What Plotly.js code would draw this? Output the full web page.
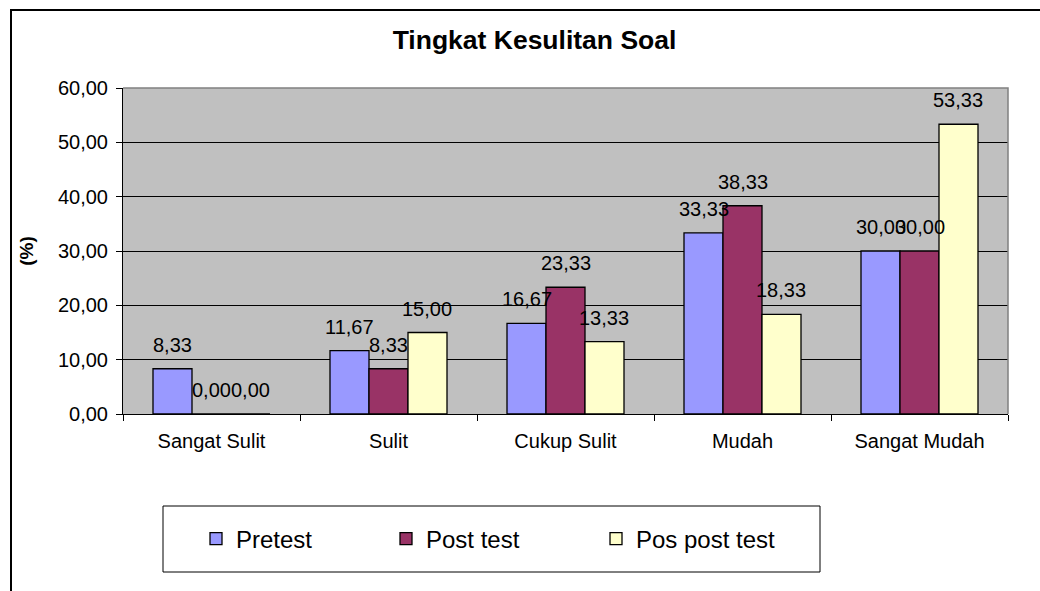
<!DOCTYPE html>
<html>
<head>
<meta charset="utf-8">
<script src="https://cdn.plot.ly/plotly-3.0.1.min.js"></script>
<style>
html,body{margin:0;padding:0;background:#fff;overflow:hidden;}
#chart{width:1040px;height:591px;}
</style>
</head>
<body>
<div id="chart"></div>
<script>
const categories = ['Sangat Sulit', 'Sulit', 'Cukup Sulit', 'Mudah', 'Sangat Mudah'];
const seriesNames = ['Pretest', 'Post test', 'Pos post test'];
const pretest = [8.33, 11.67, 16.67, 33.33, 30.00];
const postTest = [0.00, 8.33, 23.33, 38.33, 30.00];
const posPostTest = [0.00, 15.00, 13.33, 18.33, 53.33];
const yTicks = [0, 10, 20, 30, 40, 50, 60];

const colors = ['#9999FF', '#993366', '#FFFFCC'];
const allSeries = [pretest, postTest, posPostTest];
const legendWidths = [145, 165, 165];

const FONT = 'Liberation Sans, Arial, sans-serif';
const W = 1040, H = 591;
const margin = {l: 123, r: 32, t: 88, b: 177};
const plotW = W - margin.l - margin.r;
const plotH = H - margin.t - margin.b;
const bargap = 0.339;
const barPx = plotW / categories.length * (1 - bargap) / allSeries.length;

function fmt(v){ return v.toFixed(2).replace('.', ','); }
function py(pix){ return (margin.t + plotH - pix) / plotH; }
function px(pix){ return (pix - margin.l) / plotW; }

const traces = allSeries.map((vals, s) => ({
  type: 'bar',
  name: seriesNames[s],
  x: categories,
  y: vals,
  marker: {color: colors[s], line: {color: '#000', width: 1.3}},
  legendwidth: legendWidths[s],
  hoverinfo: 'x+y+name'
}));

const annotations = [];
allSeries.forEach((vals, s) => {
  vals.forEach((v, i) => {
    annotations.push({
      xref: 'x', yref: 'y', x: categories[i], y: v,
      xshift: (s - 1) * barPx, yshift: 24,
      text: fmt(v), showarrow: false,
      xanchor: 'center', yanchor: 'middle',
      font: {family: FONT, size: 20, color: '#000'}
    });
  });
});

const shapes = [
  {type: 'path', xref: 'paper', yref: 'paper', path: 'M0,1 L1,1 L1,0',
   line: {color: '#808080', width: 1.5}, layer: 'above'},
  {type: 'rect', xref: 'paper', yref: 'paper',
   x0: px(163), x1: px(820), y0: py(572), y1: py(506),
   line: {color: '#000', width: 1}, fillcolor: 'rgba(0,0,0,0)', layer: 'above'},
  {type: 'rect', xref: 'paper', yref: 'paper',
   x0: px(11), x1: px(1100), y0: py(700), y1: py(10),
   line: {color: '#000', width: 2}, fillcolor: 'rgba(0,0,0,0)', layer: 'above'}
];

const layout = {
  width: W, height: H,
  margin: margin,
  paper_bgcolor: '#fff',
  plot_bgcolor: '#C0C0C0',
  separators: ',.',
  font: {family: FONT, color: '#000', size: 20},
  title: {
    text: 'Tingkat Kesulitan Soal',
    font: {family: FONT, size: 26.5, weight: 'bold', color: '#000'},
    x: 534.5 / W, xanchor: 'center', xref: 'container',
    y: 1 - 40 / H, yanchor: 'middle', yref: 'container'
  },
  barmode: 'group',
  bargap: bargap,
  bargroupgap: 0,
  xaxis: {
    type: 'category',
    showline: true, linecolor: '#000', linewidth: 1,
    ticks: 'outside', tickson: 'boundaries', ticklen: 6, tickcolor: '#000', tickwidth: 1,
    tickfont: {family: FONT, size: 20, color: '#000'},
    ticklabelstandoff: 9,
    showgrid: false, zeroline: false, fixedrange: true
  },
  yaxis: {
    range: [0, 60],
    tickvals: yTicks,
    tickformat: '.2f',
    showline: true, linecolor: '#000', linewidth: 1,
    ticks: 'outside', ticklen: 6, tickcolor: '#000', tickwidth: 1,
    tickfont: {family: FONT, size: 20, color: '#000'},
    ticklabelstandoff: 4,
    showgrid: true, gridcolor: '#000', gridwidth: 1,
    zeroline: false, fixedrange: true,
    title: {text: '(%)', font: {family: FONT, size: 19, weight: 'bold', color: '#000'}, standoff: 19}
  },
  showlegend: true,
  legend: {
    orientation: 'h',
    xref: 'paper', yref: 'paper',
    x: px(196), xanchor: 'left',
    y: py(539), yanchor: 'middle',
    bgcolor: 'rgba(0,0,0,0)', borderwidth: 0,
    font: {family: FONT, size: 24, color: '#000'},
    traceorder: 'normal'
  },
  annotations: annotations,
  shapes: shapes
};

Plotly.newPlot('chart', traces, layout, {displayModeBar: false, staticPlot: true});
</script>
</body>
</html>
